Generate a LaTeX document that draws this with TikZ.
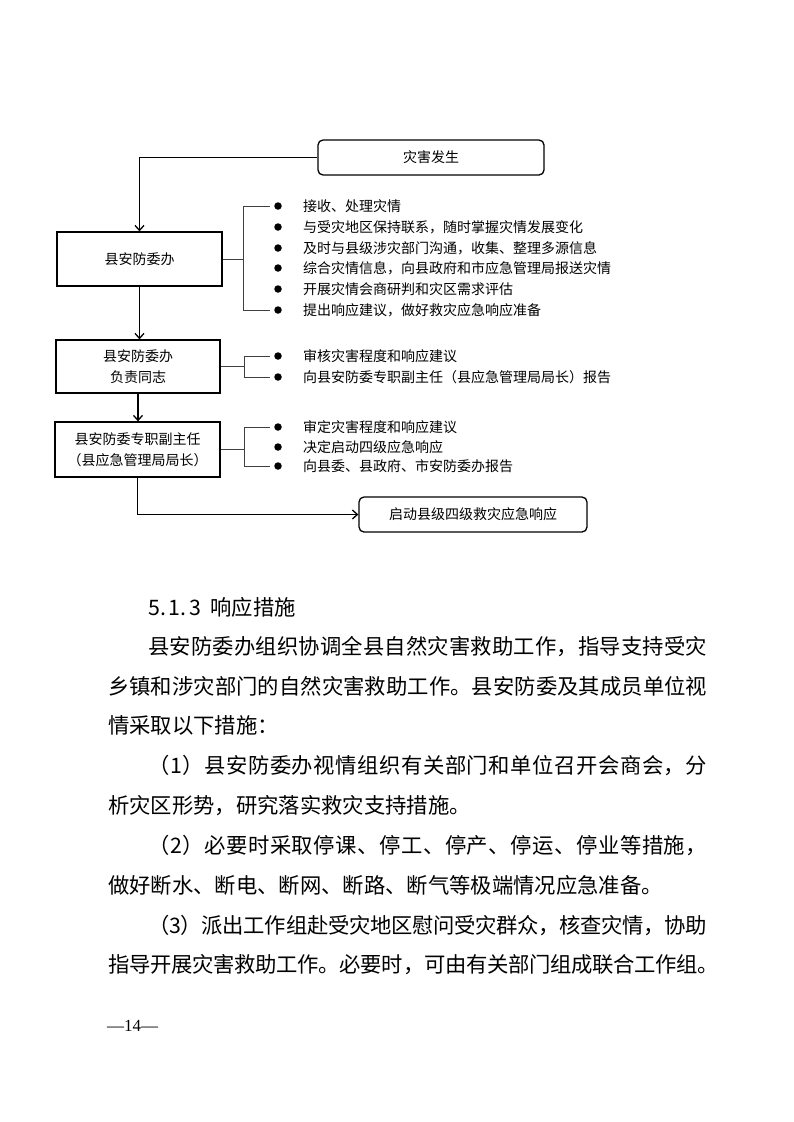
\documentclass[tikz,border=0pt]{standalone}
\usepackage{fontspec}
\setmainfont{Noto Sans CJK SC}
\newfontfamily\pagefont{Liberation Serif}
\usetikzlibrary{arrows.meta}
\def\sglue{\hskip 0pt plus 1fil minus 1fil\relax}
\def\spreadfirst#1{#1\spreadnext}
\def\spreadnext#1{\ifx#1\relax\else\sglue#1\expandafter\spreadnext\fi}
\newcommand\jline[2]{\hbox to #1{\spreadfirst#2\relax}}
\tikzset{
  boxnode/.style={draw, line width=1.3pt, rectangle, inner sep=0pt, align=center,
    font=\fontsize{14}{21}\selectfont},
  roundnode/.style={boxnode, rounded corners=5pt},
  arr/.style={line width=1.2pt, -{Straight Barb[length=5pt,width=9pt,line width=1.3pt]}},
  br/.style={line width=0.9pt, draw=black!75},
  bul/.style={circle, fill=black, inner sep=0pt, minimum size=7.5pt},
  item/.style={anchor=base west, inner sep=0pt, font=\fontsize{14}{14}\selectfont},
  body/.style={anchor=base west, inner sep=0pt, font=\fontsize{21.33}{21.33}\selectfont},
}
\begin{document}
\begin{tikzpicture}[x=1pt, y=-1pt]
\useasboundingbox (0,0) rectangle (793,1122);
\fill[white] (0,0) rectangle (793,1122);

% boxes
\node[roundnode, minimum width=226pt, minimum height=35pt] (top) at (431,157.5) {灾害发生};
\node[boxnode, minimum width=165pt, minimum height=54pt] (b1) at (139.5,259) {县安防委办};
\node[boxnode, minimum width=164pt, minimum height=53pt] (b2) at (138,366.5) {县安防委办\\负责同志};
\node[boxnode, minimum width=165pt, minimum height=55pt] (b3) at (137.5,449.5) {县安防委专职副主任\\（县应急管理局局长）};
\node[roundnode, minimum width=228pt, minimum height=35pt] (fin) at (473,514.5) {启动县级四级救灾应急响应};

% main arrows
\draw[arr] (top.west) -| (b1.north);
\draw[arr] (b1.south) -- (b1.south |- b2.north);
\draw[arr] (b2.south) -- (b2.south |- b3.north);
\draw[arr] (b3.south) |- (fin.west);

% group 1
\foreach \i/\yy/\t in {1/206/{接收、处理灾情},
  2/227/{与受灾地区保持联系，随时掌握灾情发展变化},
  3/248/{及时与县级涉灾部门沟通，收集、整理多源信息},
  4/268/{综合灾情信息，向县政府和市应急管理局报送灾情},
  5/289/{开展灾情会商研判和灾区需求评估},
  6/310/{提出响应建议，做好救灾应急响应准备}}{
  \node[bul] (ba\i) at (278,\yy) {};
  \node[item] (ta\i) at (303,\yy+5.3) {\t};
}
\coordinate (ja) at (243,259);
\draw[br] (b1.east) -- (ja);
\draw[br] ([xshift=-4pt]ba1.west) -- (243,206) -- (243,310) -- ([xshift=-4pt]ba6.west);

% group 2
\foreach \i/\yy/\t in {1/356/{审核灾害程度和响应建议},
  2/377/{向县安防委专职副主任（县应急管理局局长）报告}}{
  \node[bul] (bb\i) at (278,\yy) {};
  \node[item] (tb\i) at (303,\yy+5.3) {\t};
}
\coordinate (jb) at (244,366.5);
\draw[br] (b2.east) -- (jb);
\draw[br] ([xshift=-4pt]bb1.west) -- (244,356) -- (244,377) -- ([xshift=-4pt]bb2.west);

% group 3
\foreach \i/\yy/\t in {1/427/{审定灾害程度和响应建议},
  2/447/{决定启动四级应急响应},
  3/466/{向县委、县政府、市安防委办报告}}{
  \node[bul] (bc\i) at (278,\yy) {};
  \node[item] (tc\i) at (303,\yy+5.3) {\t};
}
\coordinate (jc) at (244,449.5);
\draw[br] (b3.east) -- (jc);
\draw[br] ([xshift=-4pt]bc1.west) -- (244,427) -- (244,466) -- ([xshift=-4pt]bc3.west);

% body text
\node[body] (l0) at (148,615) {5.\kern3pt 1.\kern3pt 3\hspace{9pt}响应措施};
\node[body] (l1) at (148,654) {\jline{559pt}{县安防委办组织协调全县自然灾害救助工作，指导支持受灾}};
\node[body] (l2) at (108,694) {\jline{599pt}{乡镇和涉灾部门的自然灾害救助工作。县安防委及其成员单位视}};
\node[body] (l3) at (108,733) {情采取以下措施：};
\node[body] (l4) at (148,773) {\jline{559pt}{（1）县安防委办视情组织有关部门和单位召开会商会，分}};
\node[body] (l5) at (108,813) {析灾区形势，研究落实救灾支持措施。};
\node[body] (l6) at (148,853) {\jline{559pt}{（2）必要时采取停课、停工、停产、停运、停业等措施，}};
\node[body] (l7) at (108,893) {做好断水、断电、断网、断路、断气等极端情况应急准备。};
\node[body] (l8) at (148,933) {\jline{559pt}{（3）派出工作组赴受灾地区慰问受灾群众，核查灾情，协助}};
\node[body] (l9) at (108,972) {\jline{611pt}{指导开展灾害救助工作。必要时，可由有关部门组成联合工作组。}};

\node[anchor=base west, inner sep=0pt, font=\pagefont\fontsize{17}{17}\selectfont] (pg) at (107,1031) {—14—};
\end{tikzpicture}
\end{document}
